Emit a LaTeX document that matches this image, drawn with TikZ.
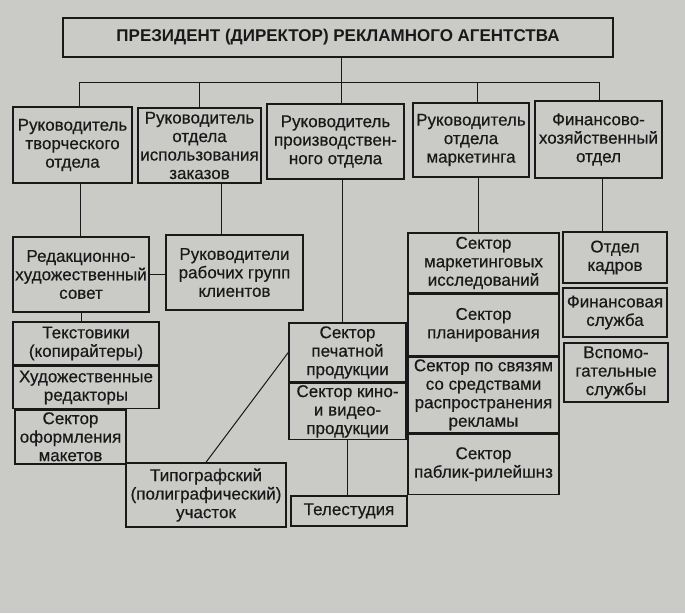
\documentclass[tikz,border=0pt]{standalone}
\usepackage{fontspec}
\setmainfont{Liberation Sans}
\newfontfamily\letra[FakeBold=0.4]{Liberation Sans}
\usetikzlibrary{positioning}
\definecolor{papel}{RGB}{202,202,198}
\definecolor{tinta}{RGB}{25,25,25}
\tikzset{
  caja/.style 2 args={draw=tinta, text=tinta, line width=1.4pt, inner sep=0pt, align=center,
    minimum width=#1pt, minimum height=#2pt, font=\letra\fontsize{17}{18.5}\selectfont},
  linea/.style={draw=tinta, line width=1pt}
}

\begin{document}
\begin{tikzpicture}[x=1pt, y=-1pt]
% fondo
\fill[papel] (0,0) rectangle (685,613);
\useasboundingbox (0,0) rectangle (685,613);

% presidente
\node[caja={550}{39}, font=\fontsize{17}{18}\selectfont\bfseries] (pres) at (338,37.5)
  {ПРЕЗИДЕНТ (ДИРЕКТОР) РЕКЛАМНОГО АГЕНТСТВА};

% primer nivel
\node[caja={119}{76}] (tvor)   at (72.5,145)  {Руководитель\\творческого\\отдела};
\node[caja={123}{75}] (zakaz)  at (199.5,145.5) {Руководитель\\отдела\\использования\\заказов};
\node[caja={137}{75}] (proiz)  at (335.5,141.5) {Руководитель\\производствен-\\ного отдела};
\node[caja={116}{74}] (market) at (471,140)   {Руководитель\\отдела\\маркетинга};
\node[caja={127}{77}] (finh)   at (598.5,139.5) {Финансово-\\хозяйственный\\отдел};

% segundo nivel
\node[caja={136}{75}] (redak) at (81,274.5)   {Редакционно-\\художественный\\совет};
\node[caja={137}{75}] (rgr)   at (234.5,272.5) {Руководители\\рабочих групп\\клиентов};

\node[caja={146}{43}] (tekst) at (86,343.5) {Текстовики\\(копирайтеры)};
\node[caja={146}{42}, below=0pt of tekst] (hud) {Художественные\\редакторы};
\node[caja={111}{54}, anchor=north west] (oform) at ([xshift=2pt]hud.south west)
  {Сектор\\оформления\\макетов};

\node[caja={117}{59}] (pech) at (347.5,352.5) {Сектор\\печатной\\продукции};
\node[caja={117}{56}, below=0pt of pech] (kino) {Сектор кино-\\и видео-\\продукции};
\node[caja={160}{64}] (tipo) at (206,495) {Типографский\\(полиграфический)\\участок};
\node[caja={116}{30}] (tele) at (349,511) {Телестудия};

\node[caja={151}{60}] (msek) at (483.5,263) {Сектор\\маркетинговых\\исследований};
\node[caja={151}{61}, below=0pt of msek] (plan) {Сектор\\планирования};
\node[caja={151}{76}, below=0pt of plan] (svyaz) {Сектор по связям\\со средствами\\распространения\\рекламы};
\node[caja={151}{60}, below=0pt of svyaz] (pr) {Сектор\\паблик-рилейшнз};

\node[caja={104}{51}] (kadr)  at (615,257.5) {Отдел\\кадров};
\node[caja={104}{49}] (finsl) at (615,312.5) {Финансовая\\служба};
\node[caja={104}{59}] (vspom) at (616,372.5) {Вспомо-\\гательные\\службы};

% lineas
\coordinate (bus) at (341,82);
\draw[linea] (pres.south -| bus) -- (bus |- proiz.north);
\draw[linea] ([xshift=6.5pt]tvor.north) |- ([xshift=1pt]finh.north |- bus) -- ([xshift=1pt]finh.north);
\draw[linea] ([xshift=-0.5pt]zakaz.north) -- ([xshift=-0.5pt]zakaz.north |- bus);
\draw[linea] ([xshift=6pt]market.north) -- ([xshift=6pt]market.north |- bus);

\draw[linea] ([xshift=7.5pt]tvor.south) -- ([xshift=7.5pt]tvor.south |- redak.north);
\draw[linea] ([xshift=21.5pt]zakaz.south) -- ([xshift=21.5pt]zakaz.south |- rgr.north);
\draw[linea] ([xshift=6.5pt]proiz.south) -- ([xshift=6.5pt]proiz.south |- pech.north);
\draw[linea] ([xshift=7pt]market.south) -- ([xshift=7pt]market.south |- msek.north);
\draw[linea] ([xshift=3.5pt]finh.south) -- ([xshift=3.5pt]finh.south |- kadr.north);

\draw[linea] (redak.east) -- (redak.east -| rgr.west);
\draw[linea] (redak.south) -- (redak.south |- tekst.north);
\draw[linea] (pech.west) -- (tipo.north);
\draw[linea] (kino.south) -- (kino.south |- tele.north);
\end{tikzpicture}
\end{document}
